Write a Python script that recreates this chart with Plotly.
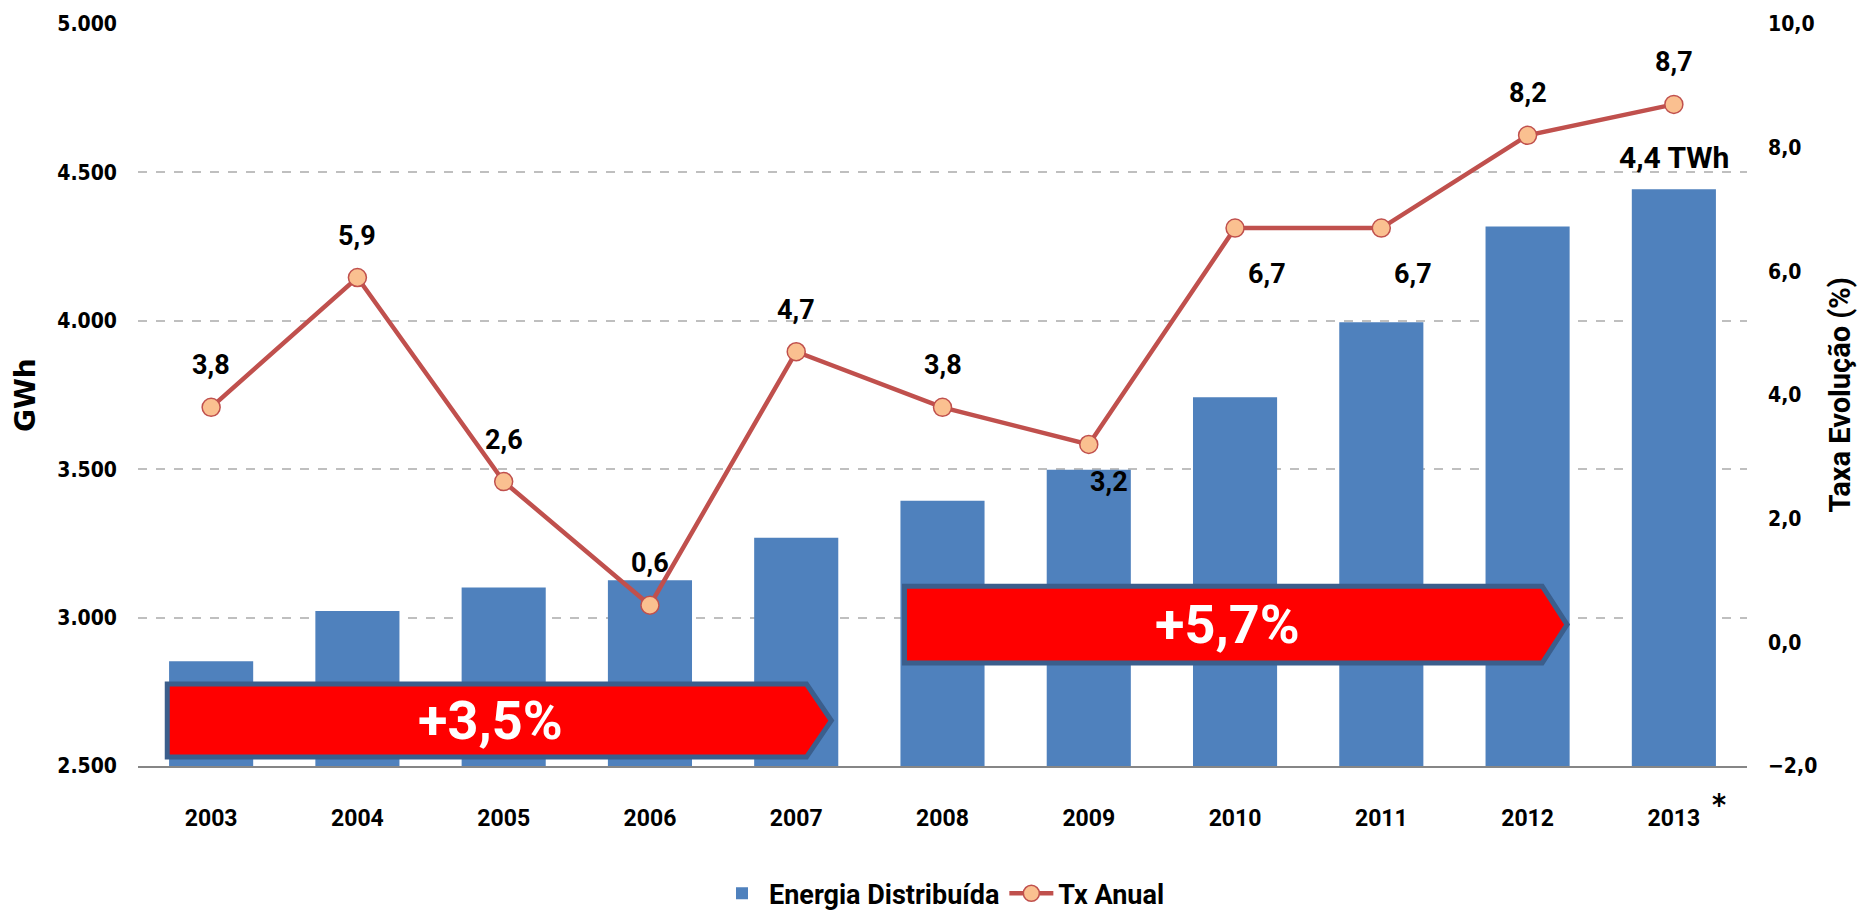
import plotly.graph_objects as go

# ---- data ----
years = [2003, 2004, 2005, 2006, 2007, 2008, 2009, 2010, 2011, 2012, 2013]
year_labels = ["2003", "2004", "2005", "2006", "2007", "2008", "2009", "2010", "2011", "2012", "2013"]
energia_gwh = [2853, 3022, 3101, 3126, 3269, 3394, 3498, 3742, 3995, 4318, 4443]
tx_anual = [3.8, 5.9, 2.6, 0.6, 4.7, 3.8, 3.2, 6.7, 6.7, 8.2, 8.7]
label_pos = ["above", "above", "above", "above", "above", "above",
             "right", "below-right", "below-right", "above", "above"]
left_ticks = [2500, 3000, 3500, 4000, 4500, 5000]
right_ticks = [-2, 0, 2, 4, 6, 8, 10]
periods = [  # (start year, end year, growth label)
    (2003, 2007, "+3,5%"),
    (2008, 2012, "+5,7%"),
]
period_levels = [(2530, 2776), (2847, 3106)]  # GWh band of each arrow
last_label = "4,4 TWh"

# ---- style ----
BAR = "#4F81BD"
LINE = "#C0504D"
MARK = "#FAC090"
NARROW = "Liberation Sans Narrow, Arial Narrow, Roboto, sans-serif"
WIDE = "DejaVu Sans Condensed, DejaVu Sans, Verdana, sans-serif"
arrow_pad = [(0.30, 0.07, 0.24), (0.26, 0.10, 0.27)]  # left pad, body end, tip

fig = go.Figure()
fig.add_trace(go.Bar(
    x=years, y=energia_gwh, name="Energia Distribuída",
    marker=dict(color=BAR, line=dict(width=0)), yaxis="y",
))
fig.add_trace(go.Scatter(
    x=years, y=tx_anual, name="Tx Anual", mode="lines+markers", yaxis="y2",
    line=dict(color=LINE, width=4.5),
    marker=dict(size=18, color=MARK, line=dict(color=LINE, width=1.5)),
))

shift_map = {"above": (0, 42), "right": (20, -38), "below-right": (32, -46)}
annotations = []
for yr, v, pos in zip(years, tx_anual, label_pos):
    dx, dy = shift_map[pos]
    annotations.append(dict(
        x=yr, y=v, xref="x", yref="y2", text=f"{v:.1f}".replace(".", ","),
        showarrow=False, xshift=dx, yshift=dy,
        font=dict(family=NARROW, size=27, color="black", weight="bold"),
    ))
annotations.append(dict(
    x=years[-1], y=energia_gwh[-1], xref="x", yref="y", text=last_label,
    showarrow=False, yshift=32,
    font=dict(family=NARROW, size=30, color="black", weight="bold"),
))
annotations.append(dict(
    x=years[-1], y=-0.052, xref="x", yref="paper", text="*",
    showarrow=False, xshift=45, xanchor="center", yanchor="middle",
    font=dict(family=WIDE, size=30, color="black", weight="bold"),
))
annotations.append(dict(
    x=-0.0702, y=0.5, xref="paper", yref="paper", text="<b>GWh</b>", textangle=-90,
    xanchor="center", yanchor="middle", showarrow=False,
    font=dict(family="DejaVu Sans, Verdana, sans-serif", size=28, color="black"),
))
annotations.append(dict(
    x=1.0575, y=0.5, xref="paper", yref="paper", text="Taxa Evolução (%)",
    textangle=-90, xanchor="center", yanchor="middle", showarrow=False,
    font=dict(family=NARROW, size=29, color="black", weight="bold"),
))

shapes = []
for (y0, y1, txt), (lo, hi), (pl, pb, pt) in zip(periods, period_levels, arrow_pad):
    xs = y0 - pl
    xb = y1 + pb
    xt = y1 + pt
    ym = (lo + hi) / 2
    shapes.append(dict(
        type="path", xref="x", yref="y", layer="above",
        path=f"M {xs},{lo} L {xs},{hi} L {xb},{hi} L {xt},{ym} L {xb},{lo} Z",
        fillcolor="#FF0000", line=dict(color="#3B5E8C", width=5),
    ))
    annotations.append(dict(
        x=(xs + xt) / 2 - 0.06, y=ym, xref="x", yref="y", text=txt, showarrow=False,
        font=dict(family=NARROW, size=54, color="white", weight="bold"),
    ))

fig.update_layout(
    width=1865, height=912,
    margin=dict(l=138, r=118, t=24, b=146, autoexpand=False),
    plot_bgcolor="white", paper_bgcolor="white",
    separators=",.",
    bargap=0.425,
    showlegend=True,
    legend=dict(orientation="h", x=0.5, xanchor="center", y=0.02, yanchor="middle",
                yref="container",
                font=dict(family=NARROW, size=27, color="black", weight="bold"),
                itemwidth=44),
    xaxis=dict(
        range=[years[0] - 0.5, years[-1] + 0.5], tickvals=years, ticktext=year_labels,
        showgrid=False, zeroline=False, showline=True, linecolor="#868686", linewidth=2,
        ticks="", ticklabelstandoff=30, automargin=False,
        tickfont=dict(family=NARROW, size=23, color="black", weight="bold"),
    ),
    yaxis=dict(
        range=[left_ticks[0], left_ticks[-1]], tickvals=left_ticks, tickformat=",.0f",
        showgrid=True, gridcolor="#BFBFBF", griddash="dash", gridwidth=1.5,
        zeroline=False, showline=False, ticks="", ticklabelstandoff=20, automargin=False,
        tickfont=dict(family=WIDE, size=21, color="black", weight="bold"),
    ),
    yaxis2=dict(
        overlaying="y", side="right", range=[right_ticks[0], right_ticks[-1]],
        tickvals=right_ticks, tickformat=".1f", showgrid=False, zeroline=False,
        showline=False, ticks="", ticklabelstandoff=20, automargin=False,
        tickfont=dict(family=WIDE, size=21, color="black", weight="bold"),
    ),
    annotations=annotations,
    shapes=shapes,
)

fig.write_html("out.html", config={"displayModeBar": False},
               post_script="document.body.style.margin='0';document.body.style.overflow='hidden';")
